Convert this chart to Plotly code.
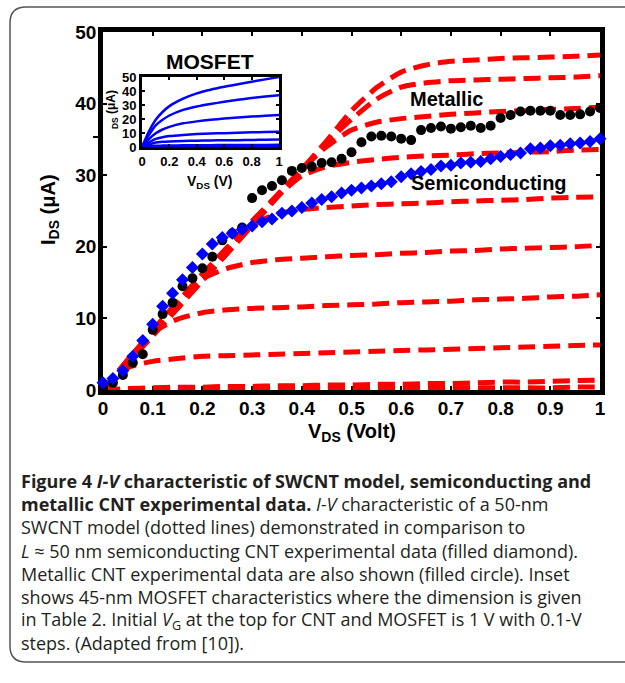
import plotly.graph_objects as go

# ---------------- data ----------------
vds_exp = [0.00, 0.02, 0.04, 0.06, 0.08, 0.10, 0.12, 0.14, 0.16, 0.18,
           0.20, 0.22, 0.24, 0.26, 0.28, 0.30, 0.32, 0.34, 0.36, 0.38,
           0.40, 0.42, 0.44, 0.46, 0.48, 0.50, 0.52, 0.54, 0.56, 0.58,
           0.60, 0.62, 0.64, 0.66, 0.68, 0.70, 0.72, 0.74, 0.76, 0.78,
           0.80, 0.82, 0.84, 0.86, 0.88, 0.90, 0.92, 0.94, 0.96, 0.98, 1.00]
metallic = [0.3, 1.0, 2.1, 3.8, 5.0, 8.4, 10.6, 12.2, 14.5, 15.6,
            17.0, 18.6, 20.9, 21.9, 22.7, 26.8, 27.9, 28.5, 29.3, 30.6,
            31.0, 31.2, 31.7, 31.8, 32.3, 33.2, 34.6, 35.4, 35.5, 35.4,
            35.1, 34.9, 36.3, 36.6, 36.8, 36.5, 36.7, 36.9, 36.6, 36.9,
            38.0, 38.4, 38.9, 39.0, 39.0, 39.0, 38.4, 38.4, 38.5, 38.9, 39.4]
semiconducting = [1.0, 1.6, 2.7, 4.7, 6.9, 9.2, 11.7, 13.5, 15.4, 17.1,
                  19.0, 20.4, 21.3, 21.9, 22.4, 22.9, 23.5, 23.9, 24.7, 25.0,
                  25.5, 26.1, 26.6, 27.0, 27.5, 27.9, 28.2, 28.5, 28.8, 29.1,
                  29.8, 30.2, 30.5, 30.8, 31.3, 31.4, 31.7, 31.8, 31.9, 32.3,
                  32.6, 32.9, 33.1, 33.7, 33.8, 34.1, 34.2, 34.4, 34.5, 34.7, 35.1]

vds_model = [0.00, 0.05, 0.10, 0.15, 0.20, 0.25, 0.30, 0.35, 0.40, 0.45, 0.50,
             0.55, 0.60, 0.65, 0.70, 0.75, 0.80, 0.85, 0.90, 0.95, 1.00]
model_curves = [
    [0, 3.8, 7.6, 11.4, 15.3, 19.1, 23.0, 26.9, 30.8, 34.8, 39.0, 42.2, 44.4, 45.4, 45.9, 46.1, 46.3, 46.4, 46.5, 46.6, 46.8],
    [0, 3.8, 7.6, 11.4, 15.3, 19.1, 23.0, 26.9, 30.8, 34.6, 37.8, 40.6, 42.3, 42.9, 43.2, 43.3, 43.4, 43.5, 43.6, 43.7, 43.9],
    [0, 4.0, 8.0, 12.0, 15.9, 19.7, 23.5, 27.2, 30.8, 34.0, 36.3, 37.4, 37.9, 38.2, 38.5, 38.7, 38.9, 39.0, 39.2, 39.3, 39.5],
    [0, 4.1, 8.2, 12.2, 16.1, 19.9, 23.6, 27.0, 29.9, 31.2, 31.8, 32.2, 32.5, 32.7, 32.8, 33.0, 33.1, 33.2, 33.3, 33.5, 33.6],
    [0, 4.2, 8.3, 12.3, 16.2, 19.9, 23.0, 24.6, 25.2, 25.5, 25.7, 25.9, 26.0, 26.1, 26.3, 26.4, 26.5, 26.6, 26.8, 26.9, 27.0],
    [0, 4.2, 8.3, 12.3, 15.5, 17.0, 17.8, 18.2, 18.4, 18.6, 18.8, 18.9, 19.1, 19.2, 19.4, 19.5, 19.7, 19.8, 19.9, 20.0, 20.2],
    [0, 4.2, 8.0, 9.9, 10.8, 11.2, 11.4, 11.5, 11.6, 11.8, 11.9, 12.0, 12.2, 12.3, 12.4, 12.6, 12.7, 12.8, 13.0, 13.1, 13.3],
    [0, 3.1, 4.0, 4.4, 4.7, 4.8, 4.9, 5.0, 5.1, 5.2, 5.3, 5.4, 5.5, 5.6, 5.7, 5.8, 5.9, 6.0, 6.1, 6.2, 6.3],
    [0, 0.2, 0.3, 0.4, 0.4, 0.5, 0.5, 0.6, 0.6, 0.7, 0.7, 0.8, 0.8, 0.9, 0.9, 1.0, 1.1, 1.1, 1.2, 1.3, 1.4],
    [0, 0.1, 0.1, 0.1, 0.1, 0.2, 0.2, 0.2, 0.2, 0.2, 0.2, 0.3, 0.3, 0.3, 0.3, 0.3, 0.3, 0.3, 0.3, 0.4, 0.4],
]

vds_mos = [0.00, 0.05, 0.10, 0.15, 0.20, 0.30, 0.40, 0.50, 0.60, 0.70, 0.80, 0.90, 1.00]
mosfet_curves = [
    [0, 11.0, 19.5, 25.0, 29.2, 34.5, 38.3, 40.9, 43.0, 44.8, 46.6, 48.3, 50.0],
    [0, 8.5, 15.5, 19.5, 22.5, 26.5, 28.9, 30.7, 32.3, 33.7, 35.0, 36.0, 37.0],
    [0, 5.5, 9.8, 12.5, 14.4, 16.9, 18.3, 19.4, 20.3, 21.0, 21.7, 22.3, 22.9],
    [0, 3.2, 5.8, 7.0, 7.8, 8.6, 9.2, 9.6, 9.9, 10.2, 10.5, 10.7, 10.9],
    [0, 1.8, 3.2, 3.7, 4.0, 4.3, 4.5, 4.7, 4.8, 4.9, 5.0, 5.2, 5.3],
    [0, 0.6, 0.9, 1.0, 1.1, 1.2, 1.3, 1.3, 1.4, 1.4, 1.5, 1.5, 1.6],
    [0, 0.1, 0.1, 0.2, 0.2, 0.2, 0.2, 0.2, 0.3, 0.3, 0.3, 0.3, 0.3],
]

x_ticks = [0, 0.1, 0.2, 0.3, 0.4, 0.5, 0.6, 0.7, 0.8, 0.9, 1]
x_ticktext = ["0", "0.1", "0.2", "0.3", "0.4", "0.5", "0.6", "0.7", "0.8", "0.9", "1"]
y_ticks = [0, 10, 20, 30, 40, 50]
inset_x_ticks = [0, 0.2, 0.4, 0.6, 0.8, 1]
inset_x_ticktext = ["0", "0.2", "0.4", "0.6", "0.8", "1"]

caption_lines = [
    "<b>Figure 4 <i>I-V</i> characteristic of SWCNT model, semiconducting and</b>",
    "<b>metallic CNT experimental data.</b> <i>I-V</i> characteristic of a 50-nm",
    "SWCNT model (dotted lines) demonstrated in comparison to",
    "<i>L</i> \u2248 50 nm semiconducting CNT experimental data (filled diamond).",
    "Metallic CNT experimental data are also shown (filled circle). Inset",
    "shows 45-nm MOSFET characteristics where the dimension is given",
    "in Table 2. Initial <i>V</i><sub>G</sub> at the top for CNT and MOSFET is 1 V with 0.1-V",
    "steps. (Adapted from [10]).",
]

# ---------------- layout helpers (pixel -> paper) ----------------
W, H = 625, 683
PL, PR, PT, PB = 103, 600, 32, 390


def px_x(p):
    return (p - PL) / (PR - PL)


def px_y(p):
    return (PB - p) / (PB - PT)


FONT = "Liberation Sans"
fig = go.Figure()

for yv in model_curves:
    fig.add_trace(go.Scatter(
        x=vds_model, y=yv, mode="lines", xaxis="x", yaxis="y",
        line=dict(color="#ff0000", width=5, dash="17px,8px", shape="spline", smoothing=0.6),
        showlegend=False, hoverinfo="skip"))

fig.add_trace(go.Scatter(
    x=vds_exp, y=metallic, mode="markers", xaxis="x", yaxis="y",
    marker=dict(symbol="circle", size=10, color="black"), cliponaxis=False,
    showlegend=False))
fig.add_trace(go.Scatter(
    x=vds_exp, y=semiconducting, mode="markers", xaxis="x", yaxis="y",
    marker=dict(symbol="diamond", size=10, color="#0000ff"), cliponaxis=False,
    showlegend=False))

for yv in mosfet_curves:
    fig.add_trace(go.Scatter(
        x=vds_mos, y=yv, mode="lines", xaxis="x2", yaxis="y2",
        line=dict(color="#0000ff", width=2.5, shape="spline", smoothing=0.6),
        showlegend=False, hoverinfo="skip", cliponaxis=False))

tickfont_main = dict(family=FONT, size=19, color="black", weight="bold")
tickfont_inset = dict(family=FONT, size=13, color="black", weight="bold")

ix0, ix1 = px_x(142), px_x(279)
iy0, iy1 = px_y(147), px_y(77)

fig.update_layout(
    width=W, height=H,
    margin=dict(l=PL, r=W - PR, t=PT, b=H - PB, pad=0),
    paper_bgcolor="white", plot_bgcolor="white",
    xaxis=dict(domain=[0, 1], range=[0, 1], tickvals=x_ticks, ticktext=x_ticktext,
               showgrid=False, zeroline=False, showline=True, linecolor="black", linewidth=4.5,
               mirror="ticks", ticks="inside", ticklen=4, tickwidth=2, tickcolor="black",
               tickfont=tickfont_main, layer="below traces", ticklabelstandoff=-3),
    yaxis=dict(domain=[0, 1], range=[0, 50], tickvals=y_ticks,
               showgrid=False, zeroline=False, showline=True, linecolor="black", linewidth=4.5,
               mirror="ticks", ticks="inside", ticklen=4, tickwidth=2, tickcolor="black",
               tickfont=tickfont_main, layer="below traces", ticklabelstandoff=-2),
    xaxis2=dict(domain=[ix0, ix1], anchor="y2", range=[0, 1], tickvals=inset_x_ticks,
                ticktext=inset_x_ticktext, showgrid=False, zeroline=False, showline=True,
                linecolor="black", linewidth=3, mirror="ticks", ticks="inside", ticklen=3,
                tickwidth=1.5, tickcolor="black", tickfont=tickfont_inset),
    yaxis2=dict(domain=[iy0, iy1], anchor="x2", range=[0, 50], tickvals=y_ticks,
                showgrid=False, zeroline=False, showline=True, linecolor="black", linewidth=3,
                mirror="ticks", ticks="inside", ticklen=3, tickwidth=1.5, tickcolor="black",
                tickfont=tickfont_inset),
)


def label(text, x, y, size, angle=0, ref="paper", font=FONT):
    return dict(text=text, x=x, y=y, xref=ref, yref=ref, xanchor="center", yanchor="middle",
                showarrow=False, textangle=angle, font=dict(family=font, size=size, color="black"))


ann = [
    label("<b>V<sub>DS</sub> (Volt)</b>", px_x(352), px_y(432), 20),
    label("<b>I<sub>DS</sub> (\u03bcA)</b>", px_x(49), px_y(210), 20, angle=-90),
    label("<b>MOSFET</b>", px_x(210), px_y(62), 21),
    label("<b>V<sub>DS</sub> (V)</b>", px_x(210), px_y(182), 14),
    label("<b><sub>DS</sub> (\u03bcA)</b>", px_x(112), px_y(110), 12, angle=-90),
]
ann.append(dict(text="<b>Metallic</b>", x=0.692, y=40.6, xref="x", yref="y", xanchor="center",
                yanchor="middle", showarrow=False, font=dict(family=FONT, size=20, color="black")))
ann.append(dict(text="<b>Semiconducting</b>", x=0.776, y=28.9, xref="x", yref="y", xanchor="center",
                yanchor="middle", showarrow=False, font=dict(family=FONT, size=20, color="black")))
# caption
cap_y = [481, 504, 527, 551, 574, 597, 620, 643]
for txt, yy in zip(caption_lines, cap_y):
    ann.append(dict(text=txt, x=px_x(19), y=px_y(yy), xref="paper", yref="paper",
                    xanchor="left", yanchor="middle", showarrow=False, align="left",
                    font=dict(family="Open Sans", size=18, color="#231f20")))
fig.update_layout(annotations=ann)

# rounded frame and stray tick mark
x0, x1 = px_x(10), px_x(640)
y0, y1 = px_y(7), px_y(662)
rx = 16 / (PR - PL)
ry = 16 / (PB - PT)
path = (f"M {x1},{y0} L {x0 + rx},{y0} Q {x0},{y0} {x0},{y0 - ry} "
        f"L {x0},{y1 + ry} Q {x0},{y1} {x0 + rx},{y1} L {x1},{y1}")
fig.add_shape(type="path", path=path, xref="paper", yref="paper",
              line=dict(color="#555555", width=1.5), layer="below")
fig.add_shape(type="line", xref="paper", yref="paper", x0=px_x(93), x1=px_x(100),
              y0=px_y(137), y1=px_y(137), line=dict(color="black", width=2))

fig.write_html("out.html", config={"displayModeBar": False},
               post_script="document.body.style.margin='0px';")
